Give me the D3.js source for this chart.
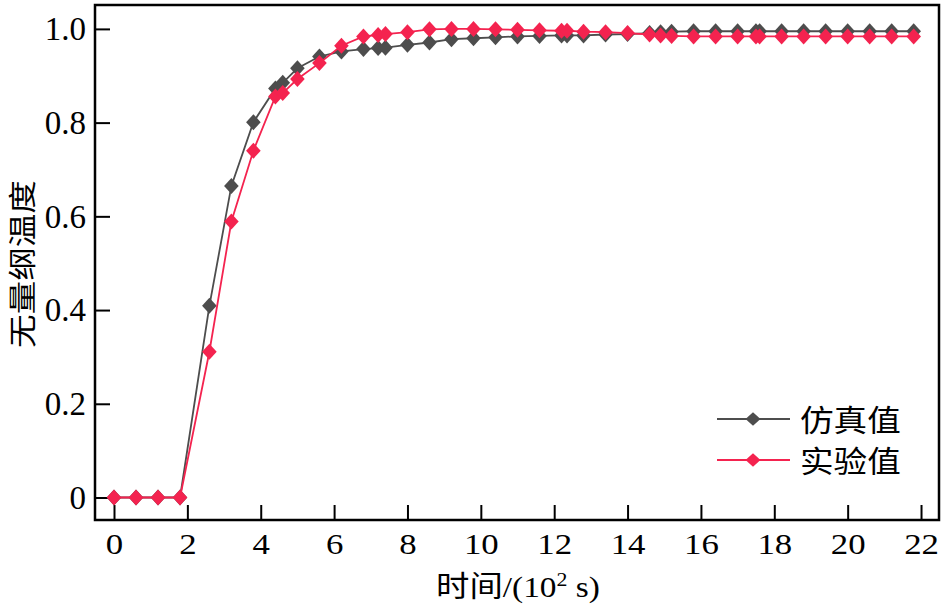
<!DOCTYPE html>
<html>
<head>
<meta charset="utf-8">
<script src="https://cdn.jsdelivr.net/npm/d3@7"></script>
<style>
  html, body { margin: 0; padding: 0; background: #fff; }
  svg { display: block; }
</style>
</head>
<body>
<svg id="chart" width="945" height="608"></svg>
<script>
// ---- data ----
const timeX = [0, 0.6, 1.2, 1.8, 2.6, 3.2, 3.8, 4.4, 4.6, 5.0, 5.6, 6.2, 6.8, 7.2, 7.4, 8.0, 8.6, 9.2, 9.8,
  10.4, 11.0, 11.6, 12.2, 12.35, 12.8, 13.4, 14.0, 14.6, 14.9, 15.2, 15.8, 16.4, 17.0, 17.5, 17.6,
  18.2, 18.8, 19.4, 20.0, 20.6, 21.2, 21.8];
const simValues = [0, 0, 0, 0, 0.409, 0.665, 0.801, 0.873, 0.885, 0.916, 0.941, 0.952, 0.957, 0.959, 0.960, 0.966, 0.971, 0.978, 0.980,
  0.982, 0.984, 0.985, 0.986, 0.986, 0.986, 0.988, 0.989, 0.991, 0.993, 0.994, 0.995, 0.995, 0.995, 0.995, 0.995,
  0.995, 0.995, 0.995, 0.995, 0.995, 0.995, 0.995];
const expValues = [0, 0, 0, 0, 0.311, 0.589, 0.740, 0.856, 0.863, 0.893, 0.927, 0.964, 0.984, 0.987, 0.989, 0.993, 0.999, 1.000, 1.000,
  0.999, 0.998, 0.997, 0.996, 0.996, 0.994, 0.993, 0.991, 0.988, 0.986, 0.985, 0.984, 0.984, 0.984, 0.984, 0.984,
  0.984, 0.984, 0.984, 0.984, 0.984, 0.984, 0.984];
const seriesNames = ["仿真值", "实验值"];
const xTicks = [0, 2, 4, 6, 8, 10, 12, 14, 16, 18, 20, 22];
const yTicks = [0, 0.2, 0.4, 0.6, 0.8, 1.0];
const yTickLabels = ["0", "0.2", "0.4", "0.6", "0.8", "1.0"];
const yTitle = "无量纲温度";
const xTitle = ["时间/(10", "2", " s)"];

// ---- layout ----
const colors = ["#4d4d4d", "#f4234f"];
const L = 95, T = 5, R = 939, B = 520;
const svg = d3.select("#chart");
const x = d3.scaleLinear().domain([-0.518, 22.49]).range([L, R]);
const y = d3.scaleLinear().domain([-0.048, 1.051]).range([B, T]);
const serif = "'Liberation Serif', 'Times New Roman', 'Noto Sans CJK SC', serif";
const cjk = "'Noto Sans CJK SC', sans-serif";

// x axis
const gx = svg.append("g").attr("transform", `translate(0,${B})`)
  .call(d3.axisBottom(x).tickValues(xTicks).tickSize(-15).tickPadding(0).tickFormat(d3.format("d")));
gx.select(".domain").remove();
gx.selectAll(".tick line").attr("stroke", "#000").attr("stroke-width", 2);
gx.selectAll(".tick text")
  .attr("y", 34).attr("dy", null)
  .attr("fill", "#000")
  .style("font-family", serif).style("font-size", "29px")
  .attr("transform", "scale(1.2,1)");

// y axis
const gy = svg.append("g").attr("transform", `translate(${L},0)`)
  .call(d3.axisLeft(y).tickValues(yTicks).tickSize(-15).tickPadding(0)
    .tickFormat((d, i) => yTickLabels[i]));
gy.select(".domain").remove();
gy.selectAll(".tick line").attr("stroke", "#000").attr("stroke-width", 2);
gy.selectAll(".tick text")
  .attr("x", -9).attr("dy", "0.33em")
  .attr("fill", "#000")
  .style("font-family", serif).style("font-size", "33px");

// frame
svg.append("rect").attr("x", L).attr("y", T).attr("width", R - L).attr("height", B - T)
  .attr("fill", "none").attr("stroke", "#000").attr("stroke-width", 2.5);

// series
const diamond = (w, h) => `M0,${-h}L${w},0L0,${h}L${-w},0Z`;
const allSeries = [simValues, expValues];
const line = d3.line().x(d => x(d[0])).y(d => y(d[1]));
allSeries.forEach((vals, si) => {
  const pts = timeX.map((t, i) => [t, vals[i]]);
  const g = svg.append("g");
  g.append("path").datum(pts).attr("d", line)
    .attr("fill", "none").attr("stroke", colors[si]).attr("stroke-width", 1.8);
  g.selectAll("path.m").data(pts).enter().append("path").attr("class", "m")
    .attr("d", diamond(7.3, 8))
    .attr("transform", d => `translate(${x(d[0])},${y(d[1])})`)
    .attr("fill", colors[si]);
});

// legend
const legY = [419, 460];
seriesNames.forEach((name, i) => {
  const g = svg.append("g");
  g.append("line").attr("x1", 717).attr("x2", 790).attr("y1", legY[i]).attr("y2", legY[i])
    .attr("stroke", colors[i]).attr("stroke-width", 1.8);
  g.append("path").attr("d", diamond(7.5, 6.8))
    .attr("transform", `translate(753,${legY[i]})`).attr("fill", colors[i]);
  g.append("text").attr("transform", `translate(800,${legY[i] - 1}) scale(1.12,1)`)
    .attr("dominant-baseline", "central")
    .style("font-family", cjk).style("font-size", "30px").attr("fill", "#000")
    .text(name);
});

// y title
svg.append("text").attr("transform", "translate(21,264) rotate(-90) scale(1.2,1)")
  .attr("text-anchor", "middle").attr("dominant-baseline", "central")
  .style("font-family", cjk).style("font-size", "28px").attr("fill", "#000")
  .text(yTitle);

// x title
const xt = svg.append("text").attr("transform", "translate(518,597) scale(1.15,1)")
  .attr("text-anchor", "middle")
  .style("font-family", serif).style("font-size", "29px").attr("fill", "#000");
xt.append("tspan").text(xTitle[0]);
xt.append("tspan").attr("dy", -11).style("font-size", "19px").text(xTitle[1]);
xt.append("tspan").attr("dy", 11).text(xTitle[2]);
</script>
</body>
</html>
